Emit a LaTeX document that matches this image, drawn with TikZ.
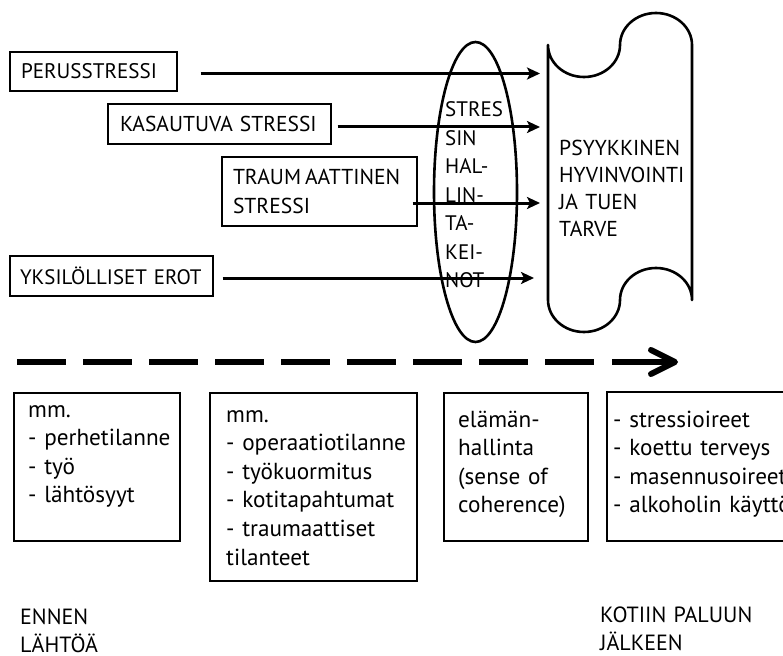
\documentclass[tikz,border=0pt]{standalone}
\usepackage{fontspec}
\setmainfont{PT Sans}
\usetikzlibrary{shapes.geometric,arrows.meta,calc}
\begin{document}
\begin{tikzpicture}[x=1pt,y=-1pt,
  topbox/.style={draw,line width=1.4pt,rectangle,inner ysep=0pt,align=left,
    font=\fontsize{21.5}{29}\selectfont},
  emptybox/.style={draw,line width=1.6pt,rectangle,inner sep=0pt},
  txt/.style={anchor=base west,inner sep=0pt,align=left},
  arr/.style={line width=3pt,-{Stealth[length=13pt,width=12pt,inset=3pt]}},
  boxfont/.style={font=\fontsize{23.2}{28.6}\selectfont}]
\useasboundingbox (0,0) rectangle (783,655);

% left input boxes
\node[topbox,font=\fontsize{21.1}{29}\selectfont,minimum width=167pt,minimum height=39pt,inner xsep=11pt,text width=145pt] (p) at (93.5,71.5) {PERUSSTRESSI};
\node[topbox,minimum width=223pt,minimum height=40pt,inner xsep=12pt,text width=199pt] (k) at (219.5,124) {KASAUTUVA STRESSI};
\node[topbox,font=\fontsize{21.6}{29}\selectfont,minimum width=195pt,minimum height=69pt,inner xsep=11pt,text width=173pt] (t) at (319.5,191.5) {TRAUM\kern4pt AATTINEN\\STRESSI};
\node[topbox,font=\fontsize{20.9}{29}\selectfont,minimum width=203pt,minimum height=40pt,inner xsep=10pt,text width=183pt] (yk) at (111.5,276) {YKSILÖLLISET EROT};

% ellipse
\node[draw,ellipse,line width=2.6pt,minimum width=83pt,minimum height=300pt,inner sep=0pt] (e) at (475.5,192) {};
\node[txt,font=\fontsize{21}{28.5}\selectfont,text width=70pt] (et) at (445,117) {STRES\\SIN\\HAL-\\LIN-\\TA-\\KEI-\\NOT};

% scroll
\draw[line width=2.6pt,line join=round]
  (548,45) .. controls (548,62.7) and (564.1,77) .. (584,77)
           .. controls (603.9,77) and (620,62.7) .. (620,45)
           .. controls (620,27.3) and (636.1,13) .. (656,13)
           .. controls (675.9,13) and (692,27.3) .. (692,45)
  -- (692,300)
           .. controls (692,282.3) and (675.9,268) .. (656,268)
           .. controls (636.1,268) and (620,282.3) .. (620,300)
           .. controls (620,317.7) and (603.9,332) .. (584,332)
           .. controls (564.1,332) and (548,317.7) .. (548,300)
  -- cycle;
\node[txt,font=\fontsize{21.6}{27}\selectfont,text width=130pt] (sc) at (559,155) {PSYYKKINEN\\HYVINVOINTI\\JA TUEN\\TARVE};
\coordinate (tipx) at (540,0);
\coordinate (tipx2) at (534,0);

% arrows
\draw[arr] ($(p.east)+(23,2)$) -- ($(p.east -| tipx)+(0,2)$);
\draw[arr] ($(k.east)+(6,3)$) -- ($(k.east -| tipx)+(0,3)$);
\draw[arr] ($(t.east)+(-5,11.5)$) -- ($(t.east -| tipx)+(0,11.5)$);
\draw[arr] ($(yk.east)+(9,2)$) -- ($(yk.east -| tipx2)+(0,2)$);

% timeline
\coordinate (ds) at (17,362);
\coordinate (dm) at (596,362);
\coordinate (dn) at (612,362);
\coordinate (de) at (678,362);
\draw[line width=6pt,dash pattern=on 49pt off 17pt] (ds) -- (dm);
\draw[line width=6pt,
  -{Straight Barb[length=24pt,width=24pt,line cap=round,line join=round]}] (dn) -- (de);

% bottom boxes
\node[emptybox,minimum width=166pt,minimum height=148pt] (b1) at (97,467) {};
\node[emptybox,minimum width=207pt,minimum height=188pt] (b2) at (313.5,487) {};
\node[emptybox,minimum width=144pt,minimum height=148pt] (b3) at (516,467) {};
\node[emptybox,minimum width=200pt,minimum height=149pt] (b4) at (707,466.5) {};

\node[txt,boxfont,text width=150pt] (t1) at (28,417) {mm.\\- perhetilanne\\- työ\\- lähtösyyt};
\node[txt,boxfont,text width=190pt] (t2) at (226,422) {mm.\\- operaatiotilanne\\- työkuormitus\\- kotitapahtumat\\- traumaattiset\\tilanteet};
\node[txt,boxfont,text width=130pt] (t3) at (458,427) {elämän-\\hallinta\\(sense of\\coherence)};
\node[txt,boxfont,text width=200pt] (t4) at (613,427) {- stressioireet\\- koettu terveys\\- masennusoireet\\- alkoholin käyttö};

\node[txt,font=\fontsize{22}{28}\selectfont,text width=120pt] (l1) at (20,624) {ENNEN\\LÄHTÖÄ};
\node[txt,font=\fontsize{22}{28}\selectfont,text width=180pt] (l2) at (600,622) {KOTIIN PALUUN\\JÄLKEEN};
\end{tikzpicture}
\end{document}
